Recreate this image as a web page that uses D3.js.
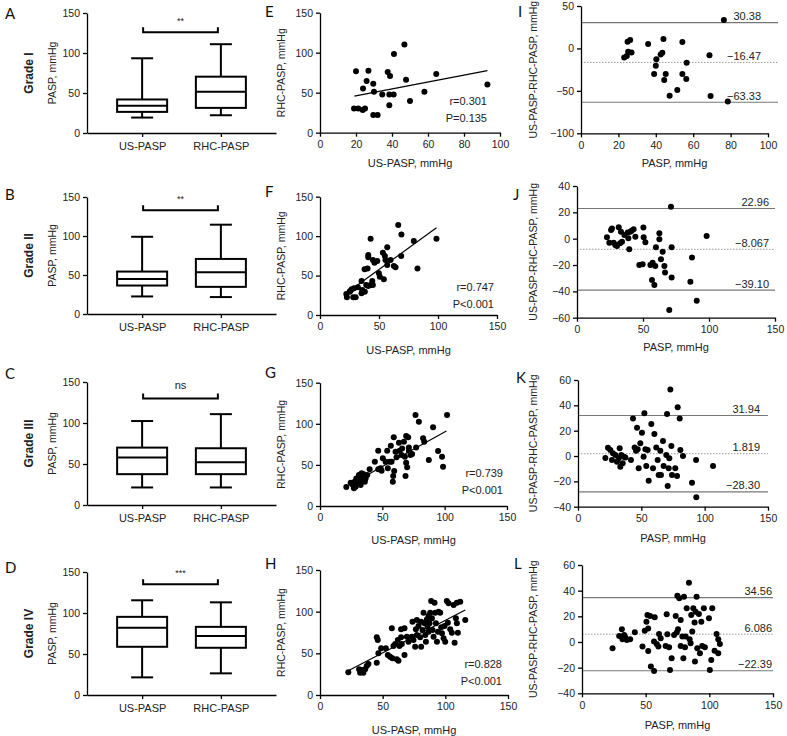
<!DOCTYPE html>
<html>
<head>
<meta charset="utf-8">
<script src="https://cdn.jsdelivr.net/npm/d3@7"></script>
<style>
  body { margin: 0; background: #fff; }
  svg { display: block; }
  text { font-family: "Liberation Sans", Arial, sans-serif; }
</style>
</head>
<body>
<svg id="chart" width="787" height="736"></svg>
<script>
// ---------- data ----------
const boxCats = ["US-PASP", "RHC-PASP"];
const gradeLabels = ["Grade I", "Grade II", "Grade III", "Grade IV"];
// [min, q1, median, q3, max]
const boxA = [[19.3, 26.4, 34, 41.9, 93.4], [22.2, 31.4, 51.5, 70.4, 111]];
const boxB = [[22.5, 36.5, 45, 54.4, 99], [21.7, 34.8, 53.5, 70.6, 114.5]];
const boxC = [[21.4, 37.6, 57.9, 70, 102.4], [21.4, 37.6, 52.2, 69.2, 110.8]];
const boxD = [[21.5, 58.8, 81.9, 95.3, 115.5], [26.4, 57.6, 71.8, 83.1, 113]];
const sigLabels = ["**", "**", "ns", "***"];
const sigLevels = [126, 133, 130, 135];

const scatterE = [[18.9,30.4],[21.3,30.4],[20,76.7],[23.9,55.4],[23.7,28.3],[25,30.4],[25.9,64.6],[26.9,77.5],[29.6,61.3],[30,51.3],[29.6,22],[32,22],[34.6,47.9],[37.6,75.8],[38.9,70.8],[38.5,47.9],[38.5,34.2],[40.9,47.9],[41.1,98.3],[46.9,110.4],[47.8,66.3],[50,39.6],[58,51.3],[64.6,73.3],[93,60.4]];
const scatterF = [[22.3,26.6],[22.8,22.4],[25.1,29.6],[25.9,30.8],[26.8,32.5],[28.8,33.8],[28.2,22.4],[30.2,22.4],[32.1,35.1],[35.2,43.1],[35.2,27.5],[35.8,31.7],[38,29.6],[37.8,57.9],[40.3,59.1],[40.9,76],[40.9,73.1],[39.2,38],[40.9,36.8],[42.9,96.7],[42.9,38],[44.3,43.1],[44.8,38],[44.8,69.7],[46.2,66.3],[48.5,68.4],[49.9,52.8],[50.7,48.6],[54.1,45.2],[53.3,79],[55,74.8],[55.5,69.7],[57,63.4],[57,85.8],[59.8,69.7],[62.6,62.1],[64,60.4],[66.3,114],[69,102.2],[68.8,74.8],[79.5,93.8],[82.6,59.1],[98.7,96.7]];
const scatterG = [[21.1,23.1],[24.6,28.4],[26.4,25.5],[27.2,21.5],[27.8,29.6],[28.6,23.5],[29.1,33.6],[29.9,27.6],[31.2,37.7],[31.8,31.6],[32.6,25.5],[33.4,39.7],[33.9,34.9],[34.7,38.9],[35.2,30.8],[36,29.6],[36.6,33.6],[37.9,37.7],[39.8,44.6],[44,53.9],[46.7,67.3],[46.7,44.6],[48.6,45.8],[49.4,43],[50.4,58],[52.6,53.9],[53.9,67.3],[54.4,45.8],[55.8,53.9],[56.8,73.4],[57.4,53.9],[58.4,29.6],[58.7,36.5],[59.2,83.5],[59.5,42.6],[60.6,66.1],[61.4,59.2],[63.3,77],[63.8,67.3],[65.4,62],[65.9,70.1],[67.3,78.2],[68.1,60],[68.6,36.5],[69.1,52.7],[69.1,85.1],[69.9,47],[70.7,83.5],[71.3,71.3],[71.3,67.3],[72.6,62],[73.9,63.2],[76.6,110.7],[77.1,71.3],[79.3,102.6],[82.7,82.3],[83.6,78.2],[87.3,55.9],[90.7,95.7],[94.7,66.9],[97.9,60],[98.7,47.8],[101.9,110.7]];
const scatterH = [[22.6,27.2],[31.2,30.8],[32,26.8],[33.3,30],[34.6,26.8],[36,30.8],[37.3,34.8],[38.6,37.2],[45.3,38.8],[45.3,69.2],[46.1,66],[46.6,50],[48.8,56],[52.5,56],[54.1,48],[55.9,46],[57.3,80],[57.8,44],[58.6,58.8],[60,61.2],[61.3,42.8],[62.1,66],[62.6,41.2],[63.4,58.8],[64.7,78.8],[64.7,69.2],[65.3,61.2],[67.4,48],[67.4,80],[69.3,70],[70.6,64],[73.8,88],[73.3,70],[74.6,66],[75.9,58],[76.5,78.8],[77.3,72],[77.3,90],[78.6,82.8],[79.9,69.2],[80.7,58],[80.7,88],[81.8,78],[82.6,98.8],[83.4,86],[84,72],[84.5,64],[85.3,90.8],[85.8,82],[86.6,76],[86.6,94.8],[87.4,86],[87.9,98.8],[88.7,112.8],[89.3,92],[89.8,78],[90.6,70],[91.4,110.8],[91.9,98.8],[92.5,86],[93.3,64],[94.1,76],[94.6,100],[95.9,98.8],[96.7,81.2],[97.3,74],[98.6,68],[99.4,82.8],[99.9,64],[101.2,112.8],[102,86.8],[102.6,110],[103.9,78.8],[105.2,74.8],[106.6,108],[107.4,62.8],[108.4,92],[109.2,86],[109.2,110.8],[110,74.8],[111.9,112],[115.9,90]];
const fitE = [[19.1, 45.8], [93, 77.5]];
const fitF = [[21.1, 26.2], [98.7, 110.7]];
const fitG = [[21.9, 24.3], [101.4, 91.2]];
const fitH = [[22.1, 28.8], [115.9, 102]];
const statsE = ["r=0.301", "P=0.135"];
const statsF = ["r=0.747", "P<0.001"];
const statsG = ["r=0.739", "P<0.001"];
const statsH = ["r=0.828", "P<0.001"];

const baI = [[23.1,-10.6],[24.5,-9],[24.9,7.9],[26.3,9.8],[25.2,-3.9],[27,-4.7],[35.9,5.1],[39.1,-30.2],[40,-20.4],[40.3,-12.6],[42.6,-7.1],[43.5,-5.1],[44.1,11],[44.5,-37.3],[45.3,-30.2],[47.4,-55.8],[51.5,-49.1],[54.2,7.5],[54.2,-30.2],[56.5,-16.9],[56.3,-36.1],[68.7,-7.9],[69.3,-56.1],[76.4,33.4],[78.5,-62.4]];
const baJ = [[22.7,1],[24.5,-3],[25.8,6.6],[26.5,7.8],[27.8,-3],[29,-4.8],[30.3,-5.6],[31.6,8.6],[32.6,-3.5],[33.3,5.3],[34.1,-2.3],[35.9,2.8],[38.4,4.6],[38.9,0.3],[39.6,-8.1],[40.4,5.3],[41.4,6.1],[42.9,7.1],[44.2,1.5],[47.2,-20],[49.7,-19.5],[50.3,8.4],[50.5,1],[51.8,-2.8],[55.6,-20],[56.8,-31.4],[57.3,-18.2],[58.6,-35.2],[59.3,-20.8],[59.8,-6.6],[62.4,4.1],[62.4,-0.5],[63.6,-15.7],[64.9,-9.9],[66.2,-20.8],[66.7,-25.6],[69.9,-54.2],[71.2,24.3],[71.7,-6.6],[71.7,-29.4],[85.9,-32.7],[87.1,-14.2],[90.7,-47.1],[98.2,2]];
const baK = [[21.6,-1.6],[23.7,6.6],[25.5,4.7],[26.8,-3.2],[27.6,2.1],[29.5,0.8],[30.8,-4.5],[32.1,-1.8],[32.9,6.1],[33.4,-8.4],[34.2,0.8],[35.3,-5.8],[36.1,-0.5],[37.4,-1.1],[41.8,-3.2],[43.4,29.7],[44.7,6.8],[45.8,4.2],[46.6,22.4],[47.1,5.3],[47.9,-9.7],[49.2,10],[50.5,18.4],[51.8,-0.5],[52.4,33.7],[53.2,5.3],[53.9,-7.9],[55,4.7],[55.8,-19.5],[57.9,25.3],[59.2,-9.7],[60.3,17.4],[61.8,6.8],[62.9,-3.2],[63.7,-15],[65,4.2],[65.5,-15],[67.1,11.8],[67.6,-7.9],[69.7,0.8],[70.3,33.2],[70.8,-23.7],[71.6,-9.7],[72.1,-1.8],[72.9,52.6],[73.7,7.9],[74.2,-15],[76.8,-9.7],[78.2,-15.8],[78.7,38.4],[80.3,29.7],[80.8,4.7],[82.9,0],[90,-21.1],[93.2,-3.2],[93.4,-32.6],[106.6,-7.9]];
const baL = [[24,-4.9],[29.2,4.7],[31.3,9.9],[31.8,2.1],[33.1,5.5],[33.9,3.6],[35.2,1.6],[37.8,2.1],[41.5,7.5],[47.5,-3.6],[49.3,8.8],[50.6,15.8],[51.4,21],[52,10.6],[52,-7],[53.5,20.3],[54.1,-19.2],[56.6,-22.6],[56.6,0.3],[57.1,19.2],[58.7,-1.6],[60,-3.6],[60.5,6.2],[61.8,2.9],[65.7,-3.1],[66.5,21.6],[67,6],[68.4,-4.2],[69.1,-21.8],[70.4,-12.7],[72.3,5.5],[73.6,20.3],[74.4,7.3],[74.9,36.1],[75.4,9.9],[76.4,34],[77.5,17.1],[77.5,-3.1],[78.8,4.2],[79.6,-12.7],[80.1,35.3],[80.9,-4.2],[81.4,4.2],[82.2,26.2],[84,46.2],[84.5,2.1],[85.3,-1],[85.8,21],[86.6,8.1],[87.4,26.2],[88.4,15.1],[88.7,-15.3],[89.2,23.6],[90,35.3],[90.5,-4.9],[91.8,21.8],[92.6,-8.8],[93.7,15.8],[94.4,-3.1],[95.7,26.2],[96.5,-4.2],[99.7,18.4],[100.4,-21.8],[101.5,-14],[102.3,26.2],[104.1,-6.8],[105.7,6.2],[107,2.1],[107,-8.8],[108.3,-1.6]];
// [upper limit, mean, lower limit]
const limitsI = [30.38, -16.47, -63.33];
const limitsJ = [22.96, -8.067, -39.10];
const limitsK = [31.94, 1.819, -28.30];
const limitsL = [34.56, 6.086, -22.39];
const limitLabelsI = ["30.38", "\u221216.47", "\u221263.33"];
const limitLabelsJ = ["22.96", "\u22128.067", "\u221239.10"];
const limitLabelsK = ["31.94", "1.819", "\u221228.30"];
const limitLabelsL = ["34.56", "6.086", "\u221222.39"];

// ---------- layout ----------
const svg = d3.select("#chart");

function styleAxis(g) {
  g.selectAll("path, line").attr("stroke", "#000").attr("stroke-width", 1.3);
  g.selectAll("text").attr("fill", "#222").style("font-size", "10.5px");
}

function letter(txt, x, y) {
  svg.append("text").attr("x", x).attr("y", y)
    .style("font-family", "Lato, 'Liberation Sans', sans-serif")
    .style("font-size", "15px").attr("fill", "#111").text(txt);
}

function vLabel(txt, x, yMid, size, bold) {
  svg.append("text")
    .attr("transform", `translate(${x},${yMid}) rotate(-90)`)
    .attr("text-anchor", "middle")
    .style("font-size", size + "px")
    .style("font-weight", bold ? "bold" : "normal")
    .attr("fill", "#222").text(txt);
}

// ---------- box plots (A-D) ----------
const boxData = [boxA, boxB, boxC, boxD];
const boxLayout = [
  { top: 13, bottom: 133, letterY: 19 },
  { top: 197, bottom: 314, letterY: 200 },
  { top: 382, bottom: 505, letterY: 379 },
  { top: 572, bottom: 695, letterY: 573 }
];
const boxLetters = ["A", "B", "C", "D"];

boxData.forEach((data, i) => {
  const L = boxLayout[i];
  const x = d3.scalePoint().domain(boxCats).range([87, 276]).padding(0.7);
  const y = d3.scaleLinear().domain([0, 150]).range([L.bottom, L.top]);

  svg.append("g").attr("transform", `translate(87,0)`)
    .call(d3.axisLeft(y).tickValues([0, 50, 100, 150]).tickSize(4).tickSizeOuter(0).tickPadding(3))
    .call(styleAxis);
  const xa = svg.append("g").attr("transform", `translate(0,${L.bottom})`)
    .call(d3.axisBottom(x).tickSize(4).tickSizeOuter(0).tickPadding(5))
    .call(styleAxis);
  xa.selectAll("text").style("font-size", "11px");

  const bw = 50, cap = 22;
  const g = svg.append("g").attr("stroke", "#000").attr("stroke-width", 2).attr("fill", "#fff");
  data.forEach((d, j) => {
    const cx = x(boxCats[j]);
    g.append("line").attr("x1", cx).attr("x2", cx).attr("y1", y(d[0])).attr("y2", y(d[1]));
    g.append("line").attr("x1", cx).attr("x2", cx).attr("y1", y(d[3])).attr("y2", y(d[4]));
    g.append("line").attr("x1", cx - cap / 2).attr("x2", cx + cap / 2).attr("y1", y(d[0])).attr("y2", y(d[0]));
    g.append("line").attr("x1", cx - cap / 2).attr("x2", cx + cap / 2).attr("y1", y(d[4])).attr("y2", y(d[4]));
    g.append("rect").attr("x", cx - bw / 2).attr("width", bw)
      .attr("y", y(d[3])).attr("height", y(d[1]) - y(d[3]));
    g.append("line").attr("x1", cx - bw / 2).attr("x2", cx + bw / 2).attr("y1", y(d[2])).attr("y2", y(d[2]));
  });

  // significance bracket
  const sy = y(sigLevels[i]);
  const bx1 = x(boxCats[0]) + 1, bx2 = x(boxCats[1]) - 3;
  svg.append("path")
    .attr("d", `M${bx1},${sy - 5}V${sy}H${bx2}V${sy - 5}`)
    .attr("fill", "none").attr("stroke", "#000").attr("stroke-width", 2);
  const isNs = sigLabels[i] === "ns";
  svg.append("text").attr("x", (bx1 + bx2) / 2).attr("y", sy - (isNs ? 9 : 8))
    .attr("text-anchor", "middle").style("font-size", isNs ? "11px" : "9px")
    .attr("fill", "#222").text(sigLabels[i]);

  vLabel("PASP, mmHg", 56, (L.top + L.bottom) / 2, 10.5, false);
  vLabel(gradeLabels[i], 33, (L.top + L.bottom) / 2, 12, true);
  letter(boxLetters[i], 5, L.letterY);
});

// ---------- correlation scatter (E-H) ----------
const scatterData = [scatterE, scatterF, scatterG, scatterH];
const fits = [fitE, fitF, fitG, fitH];
const stats = [statsE, statsF, statsG, statsH];
const scLayout = [
  { top: 12.7, bottom: 132.7, right: 500, xmax: 100, xticks: [0, 20, 40, 60, 80, 100], titleDy: 34, statX: 487, statY: 105, letterY: 17 },
  { top: 196.7, bottom: 315, right: 497, xmax: 150, xticks: [0, 50, 100, 150], titleDy: 39, statX: 494, statY: 291, letterY: 197 },
  { top: 382.7, bottom: 506, right: 507, xmax: 150, xticks: [0, 50, 100, 150], titleDy: 38, statX: 503, statY: 477, letterY: 378 },
  { top: 570, bottom: 695, right: 508, xmax: 150, xticks: [0, 50, 100, 150], titleDy: 39, statX: 502, statY: 668, letterY: 569 }
];
const scLetters = ["E", "F", "G", "H"];

scatterData.forEach((data, i) => {
  const L = scLayout[i];
  const x = d3.scaleLinear().domain([0, L.xmax]).range([320, L.right]);
  const y = d3.scaleLinear().domain([0, 150]).range([L.bottom, L.top]);

  svg.append("g").attr("transform", `translate(320,0)`)
    .call(d3.axisLeft(y).tickValues([0, 50, 100, 150]).tickSize(4).tickSizeOuter(0).tickPadding(3))
    .call(styleAxis);
  svg.append("g").attr("transform", `translate(0,${L.bottom})`)
    .call(d3.axisBottom(x).tickValues(L.xticks).tickSize(4).tickSizeOuter(0).tickPadding(4))
    .call(styleAxis);

  svg.append("g").selectAll("circle").data(data).join("circle")
    .attr("cx", d => x(d[0])).attr("cy", d => y(d[1])).attr("r", 3).attr("fill", "#000");

  svg.append("path").datum(fits[i])
    .attr("d", d3.line().x(d => x(d[0])).y(d => y(d[1])))
    .attr("stroke", "#000").attr("stroke-width", 1.2).attr("fill", "none");

  stats[i].forEach((s, k) => {
    svg.append("text").attr("x", L.statX).attr("y", L.statY + k * 16.5)
      .attr("text-anchor", "end").style("font-size", "11px").attr("fill", "#222").text(s);
  });

  svg.append("text").attr("x", (320 + L.right) / 2).attr("y", L.bottom + L.titleDy)
    .attr("text-anchor", "middle").style("font-size", "11px").attr("fill", "#222").text("US-PASP, mmHg");
  vLabel("RHC-PASP, mmHg", 285, (L.top + L.bottom) / 2, 10.5, false);
  letter(scLetters[i], 265, L.letterY);
});

// ---------- Bland-Altman (I-L) ----------
const baData = [baI, baJ, baK, baL];
const limits = [limitsI, limitsJ, limitsK, limitsL];
const limitLabels = [limitLabelsI, limitLabelsJ, limitLabelsK, limitLabelsL];
const baLayout = [
  { left: 581, right: 768, lineEnd: 778, top: 6, bottom: 133.3, ydom: [-100, 50], yticks: [-100, -50, 0, 50], xmax: 100, xticks: [0, 20, 40, 60, 80, 100], labelX: 761, titleDy: 34, letterX: 518, letterY: 17 },
  { left: 577, right: 775, lineEnd: 775, top: 186, bottom: 317.7, ydom: [-60, 40], yticks: [-60, -40, -20, 0, 20, 40], xmax: 150, xticks: [0, 50, 100, 150], labelX: 769, titleDy: 33, letterX: 513, letterY: 200 },
  { left: 578, right: 768, lineEnd: 768, top: 380, bottom: 506.7, ydom: [-40, 60], yticks: [-40, -20, 0, 20, 40, 60], xmax: 150, xticks: [0, 50, 100, 150], labelX: 760, titleDy: 35, letterX: 516, letterY: 383 },
  { left: 582, right: 773, lineEnd: 773, top: 565, bottom: 693.3, ydom: [-40, 60], yticks: [-40, -20, 0, 20, 40, 60], xmax: 150, xticks: [0, 50, 100, 150], labelX: 772, titleDy: 36, letterX: 514, letterY: 569 }
];
const baLetters = ["I", "J", "K", "L"];

baData.forEach((data, i) => {
  const L = baLayout[i];
  const x = d3.scaleLinear().domain([0, L.xmax]).range([L.left, L.right]);
  const y = d3.scaleLinear().domain(L.ydom).range([L.bottom, L.top]);

  // limit and mean lines
  limits[i].forEach((v, k) => {
    svg.append("line").attr("x1", L.left).attr("x2", L.lineEnd)
      .attr("y1", y(v)).attr("y2", y(v))
      .attr("stroke", k === 1 ? "#999" : "#777")
      .attr("stroke-width", k === 1 ? 1 : 1.1)
      .attr("stroke-dasharray", k === 1 ? "1.5,1.5" : null);
    svg.append("text").attr("x", L.labelX).attr("y", y(v) - 2.5)
      .attr("text-anchor", "end").style("font-size", "11px").attr("fill", "#222")
      .text(limitLabels[i][k]);
  });

  svg.append("g").attr("transform", `translate(${L.left},0)`)
    .call(d3.axisLeft(y).tickValues(L.yticks).tickSize(4).tickSizeOuter(0).tickPadding(3))
    .call(styleAxis);
  svg.append("g").attr("transform", `translate(0,${L.bottom})`)
    .call(d3.axisBottom(x).tickValues(L.xticks).tickSize(4).tickSizeOuter(0).tickPadding(4))
    .call(styleAxis);

  svg.append("g").selectAll("circle").data(data).join("circle")
    .attr("cx", d => x(d[0])).attr("cy", d => y(d[1])).attr("r", 3).attr("fill", "#000");

  svg.append("text").attr("x", (L.left + L.right) / 2).attr("y", L.bottom + L.titleDy)
    .attr("text-anchor", "middle").style("font-size", "11px").attr("fill", "#222").text("PASP, mmHg");
  vLabel("US-PASP-RHC-PASP, mmHg", 537, (L.top + L.bottom) / 2, 10.5, false);
  letter(baLetters[i], L.letterX, L.letterY);
});
</script>
</body>
</html>
